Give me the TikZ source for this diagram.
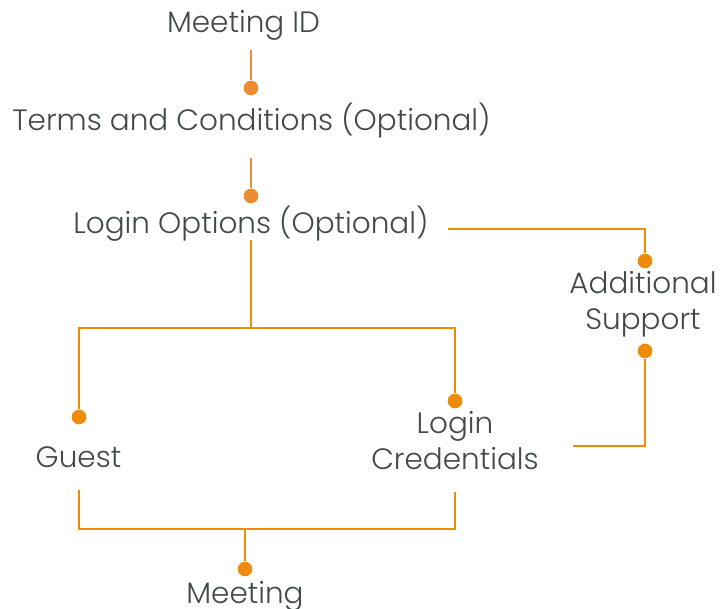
\documentclass[tikz,border=0pt]{standalone}
\usepackage{fontspec}
\setmainfont{Poppins Light}
\usetikzlibrary{positioning}

\definecolor{linkorange}{HTML}{EE8C0A}
\definecolor{softorange}{HTML}{EC8B32}
\definecolor{textgray}{HTML}{434A4C}

\begin{document}
\begin{tikzpicture}[x=0.75pt, y=-0.75pt,
    item/.style = {text=textgray, font=\fontsize{22.1}{27}\selectfont, inner sep=0pt, align=center, anchor=base},
    dot/.style = {circle, fill=linkorange, inner sep=0pt, minimum size=11pt},
    link/.style = {draw=linkorange, line width=2pt}]
    \useasboundingbox (0,0) rectangle (720,609);

    % Steps
    \node[item] (meetid) at (243.5,33) {Meeting ID};
    \node[item] (terms) at (251.5,131) {Terms and Conditions (Optional)};
    \node[item] (login) at (251,233.5) {Login Options (Optional)};
    \node[item] (support) at (643,329.5) {Additional\\Support};
    \node[item] (guest) at (78.5,467) {Guest};
    \node[item] (cred) at (455,469) {Login\\Credentials};
    \node[item] (meeting) at (245,603) {Meeting};

    % Dots
    \node[dot, fill=softorange] (termsdot) at (251,88) {};
    \node[dot, fill=softorange] (logindot) at (251,196) {};
    \node[dot] (supportin) at (645,261) {};
    \node[dot] (supportout) at (645,351) {};
    \node[dot] (guestdot) at (79,417) {};
    \node[dot] (creddot) at (455,401) {};
    \node[dot] (meetingdot) at (245,569) {};

    % Free ends
    \coordinate (meetidout) at (251,50);
    \coordinate (termsout) at (251,158);
    \coordinate (loginright) at (448,229);
    \coordinate (loginout) at (251,240);
    \coordinate (fork) at (251,328);
    \coordinate (credright) at (573,446);
    \coordinate (guestout) at (79,490);
    \coordinate (credout) at (455,492);
    \coordinate (join) at (245,529);

    % Connectors
    \draw[link, draw=softorange] (meetidout) -- (termsdot);
    \draw[link, draw=softorange] (termsout) -- (logindot);
    \draw[link] (loginright) -| (supportin);
    \draw[link] (credright) -| (supportout);
    \draw[link] (loginout) -- (fork);
    \draw[link] (guestdot) |- (fork) -| (creddot);
    \draw[link] (guestout) |- (join) -| (credout);
    \draw[link] (join) -- (meetingdot);
\end{tikzpicture}
\end{document}
